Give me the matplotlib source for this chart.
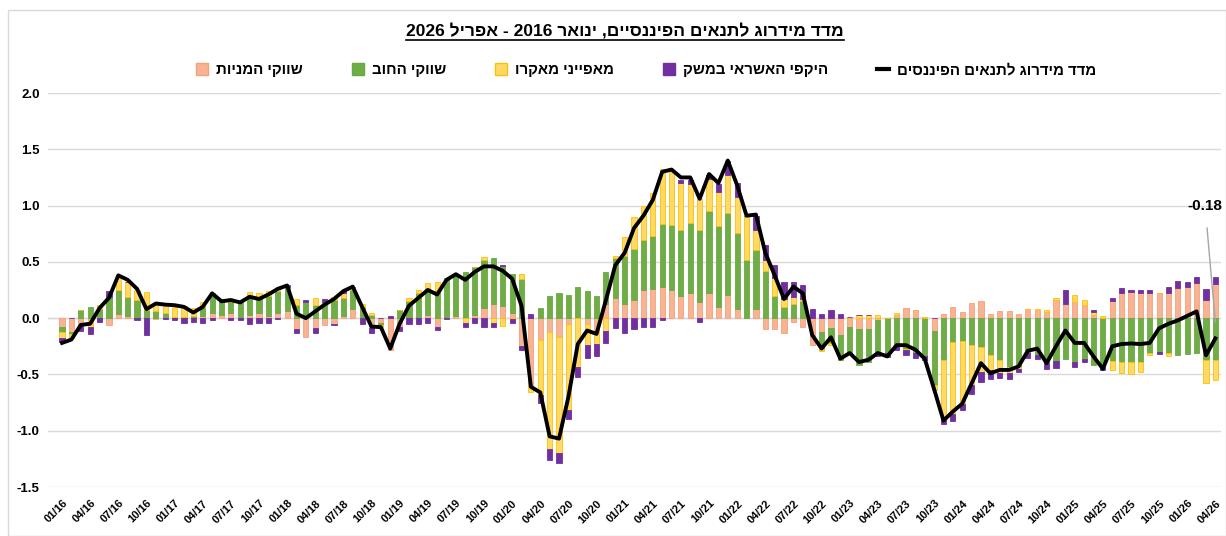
import numpy as np
import matplotlib
matplotlib.use('Agg')
import matplotlib.pyplot as plt
from matplotlib.patches import Patch, Rectangle
from matplotlib.lines import Line2D

plt.rcParams['font.family'] = ['Liberation Sans', 'DejaVu Sans']

# monthly, 01/16 .. 04/26
months = [f'{m:02d}/{y % 100:02d}' for y in range(2016, 2027) for m in range(1, 13)][:124]

equity = [-0.08, -0.12, -0.07, -0.02, 0.0, -0.06, 0.04, 0.02, 0.0, 0.0, -0.01, 0.0,
          0.0, 0.0, 0.0, 0.02, 0.045, 0.03, 0.045, 0.0, 0.03, 0.05, 0.02, 0.045,
          0.06, -0.1, -0.17, -0.09, -0.06, -0.05, 0.02, 0.08, 0.01, -0.09, -0.045, -0.28,
          -0.08, 0.0, 0.0, 0.03, -0.075, 0.01, 0.02, 0.0, 0.03, 0.09, 0.13, 0.11,
          0.05, -0.25, -0.61, -0.195, -0.12, -0.165, -0.053, 0.0, -0.05, -0.105, 0.13, 0.18,
          0.125, 0.16, 0.25, 0.26, 0.28, 0.25, 0.2, 0.225, 0.145, 0.22, 0.095, 0.21,
          0.077, 0.0, 0.077, -0.1, -0.1, -0.13, -0.03, -0.08, -0.24, -0.12, -0.09, -0.15,
          -0.077, -0.1, -0.1, -0.02, 0.0, 0.03, 0.09, 0.07, 0.0, -0.11, 0.035, 0.095,
          0.055, 0.135, 0.15, 0.04, 0.065, 0.065, 0.04, 0.085, 0.07, 0.055, 0.16, 0.13,
          0.145, 0.115, 0.025, 0.0, 0.15, 0.22, 0.23, 0.22, 0.22, 0.22, 0.22, 0.27,
          0.28, 0.31, 0.165, 0.30]
debt = [-0.04, -0.02, 0.075, 0.1, 0.08, 0.19, 0.21, 0.17, 0.16, 0.07, 0.06, 0.05,
        0.01, 0.01, 0.02, 0.08, 0.15, 0.12, 0.10, 0.15, 0.16, 0.13, 0.18, 0.2,
        0.22, 0.12, 0.14, 0.12, 0.14, 0.16, 0.16, 0.17, 0.09, 0.03, -0.015, 0.0,
        0.07, 0.15, 0.22, 0.24, 0.24, 0.35, 0.37, 0.41, 0.42, 0.43, 0.40, 0.35,
        0.34, 0.35, 0.0, 0.086, 0.2, 0.22, 0.21, 0.28, 0.24, 0.195, 0.28, 0.35,
        0.43, 0.45, 0.44, 0.47, 0.556, 0.58, 0.58, 0.62, 0.64, 0.73, 0.72, 0.72,
        0.68, 0.52, 0.53, 0.42, 0.2, 0.1, 0.13, 0.15, 0.0, -0.15, -0.13, -0.22,
        -0.24, -0.32, -0.29, -0.30, -0.31, -0.25, -0.27, -0.31, -0.34, -0.48, -0.37, -0.21,
        -0.2, -0.24, -0.26, -0.33, -0.37, -0.43, -0.43, -0.31, -0.33, -0.40, -0.38, -0.36,
        -0.39, -0.36, -0.42, -0.43, -0.38, -0.39, -0.39, -0.39, -0.31, -0.30, -0.31, -0.33,
        -0.32, -0.31, -0.37, -0.37]
macro = [-0.06, -0.04, 0.0, -0.055, 0.04, 0.0, 0.13, 0.13, 0.09, 0.16, 0.07, 0.07,
         0.09, 0.1, 0.07, 0.04, 0.03, 0.0, 0.03, 0.0, 0.045, 0.04, 0.04, 0.02,
         0.0, 0.05, 0.0, 0.06, 0.0, 0.03, 0.04, 0.03, 0.03, 0.015, -0.02, 0.0,
         0.0, 0.03, 0.03, 0.045, 0.08, 0.0, 0.0, -0.045, 0.0, 0.02, -0.04, -0.07,
         -0.01, 0.04, -0.045, -0.49, -1.04, -1.03, -0.76, -0.43, -0.19, -0.125, -0.11, 0.02,
         0.17, 0.29, 0.31, 0.385, 0.485, 0.49, 0.42, 0.35, 0.27, 0.29, 0.305, 0.34,
         0.32, 0.39, 0.18, 0.1, 0.16, 0.07, 0.06, 0.02, 0.0, -0.02, -0.02, 0.0,
         0.01, 0.03, 0.03, 0.03, 0.0, 0.02, -0.015, 0.0, 0.01, -0.05, -0.51, -0.64,
         -0.56, -0.355, -0.215, -0.13, -0.12, -0.06, -0.025, 0.0, 0.015, 0.02, 0.015, 0.0,
         0.06, 0.05, 0.03, 0.02, -0.08, -0.1, -0.11, -0.09, -0.015, 0.0, -0.03, 0.0,
         0.0, 0.0, -0.21, -0.18]
credit = [-0.03, 0.0, -0.045, -0.065, -0.03, 0.05, 0.0, 0.0, -0.015, -0.15, 0.0, -0.01,
          -0.02, -0.04, -0.03, -0.04, -0.02, 0.0, -0.02, -0.02, -0.05, -0.045, -0.04, -0.01,
          0.01, -0.03, 0.02, -0.04, 0.03, -0.015, 0.02, 0.0, -0.05, -0.04, 0.0, 0.015,
          -0.03, -0.05, -0.05, -0.045, -0.03, -0.01, 0.0, -0.03, -0.04, -0.075, -0.035, 0.015,
          -0.03, -0.035, 0.04, -0.07, -0.1, -0.095, -0.08, -0.095, -0.11, -0.105, -0.11, -0.09,
          -0.13, -0.1, -0.077, -0.083, -0.015, 0.0, 0.03, 0.035, -0.03, 0.03, 0.075, 0.13,
          0.12, 0.0, 0.12, 0.13, 0.11, 0.15, 0.13, 0.12, 0.08, 0.04, 0.07, 0.04,
          0.0, 0.0, 0.0, -0.02, -0.035, -0.03, -0.045, -0.045, -0.03, 0.0, -0.06, -0.06,
          -0.06, -0.08, -0.09, -0.08, -0.045, -0.05, -0.025, -0.045, -0.03, -0.05, -0.06, 0.12,
          -0.04, -0.03, 0.02, -0.03, 0.03, 0.045, 0.02, 0.03, 0.03, -0.02, 0.055, 0.06,
          0.04, 0.055, 0.09, 0.065]
index = [-0.22, -0.19, -0.06, -0.05, 0.09, 0.18, 0.38, 0.34, 0.26, 0.08, 0.13, 0.12,
         0.115, 0.10, 0.05, 0.10, 0.22, 0.15, 0.16, 0.14, 0.19, 0.17, 0.21, 0.26,
         0.29, 0.04, 0.0, 0.06, 0.12, 0.17, 0.24, 0.28, 0.10, -0.075, -0.08, -0.27,
         -0.05, 0.11, 0.18, 0.25, 0.21, 0.34, 0.39, 0.34, 0.41, 0.46, 0.46, 0.42,
         0.35, 0.11, -0.61, -0.66, -1.05, -1.07, -0.70, -0.23, -0.11, -0.14, 0.16, 0.47,
         0.58, 0.80, 0.91, 1.05, 1.30, 1.32, 1.25, 1.25, 1.06, 1.28, 1.20, 1.40,
         1.18, 0.91, 0.92, 0.58, 0.38, 0.17, 0.28, 0.22, -0.15, -0.27, -0.17, -0.36,
         -0.31, -0.39, -0.37, -0.31, -0.34, -0.24, -0.24, -0.28, -0.36, -0.63, -0.91, -0.83,
         -0.76, -0.58, -0.40, -0.49, -0.46, -0.46, -0.43, -0.29, -0.27, -0.40, -0.25, -0.11,
         -0.22, -0.22, -0.34, -0.45, -0.25, -0.23, -0.225, -0.23, -0.22, -0.09, -0.05, -0.02,
         0.02, 0.06, -0.33, -0.18]

title = 'מדד מידרוג לתנאים הפיננסיים, ינואר 2016 - אפריל 2026'
labels = ['שווקי המניות', 'שווקי החוב', 'מאפייני מאקרו', 'היקפי האשראי במשק']
line_label = 'מדד מידרוג לתנאים הפיננסים'
fills = ['#F8B393', '#70AD47', '#FFD966', '#7030A0']
edges = ['#F4A07A', '#6AA843', '#FFC000', '#7030A0']


def rtl(s):
    # matplotlib has no bidi: put hebrew words in visual order
    words = []
    for w in reversed(s.split(' ')):
        if any('\u0590' <= c <= '\u05ff' for c in w):
            w = w[::-1]
        words.append(w)
    return ' '.join(words)


fig = plt.figure(figsize=(12.26, 5.36), dpi=100)
ax = fig.add_axes([48 / 1226, 49 / 536, 1173 / 1226, 394 / 536])

x = np.arange(len(months))
pos = np.zeros(len(x))
neg = np.zeros(len(x))
for vals, fc, ec in zip([equity, debt, macro, credit], fills, edges):
    v = np.array(vals)
    bottom = np.where(v >= 0, pos, neg)
    ax.bar(x, v, bottom=bottom, width=0.55, color=fc, edgecolor=ec, linewidth=0.6, zorder=3)
    pos += np.clip(v, 0, None)
    neg += np.clip(v, None, 0)

ax.plot(x, index, color='black', lw=2.8, zorder=5)

ax.set_xlim(-1.5, 123.6)
ax.set_ylim(-1.5, 2.0)
ax.set_yticks(np.arange(-1.5, 2.01, 0.5))
ax.yaxis.set_major_formatter(matplotlib.ticker.FormatStrFormatter('%.1f'))
ax.grid(axis='y', color='#d9d9d9', lw=1, zorder=0)
ax.axhline(0, color='#d0d0d0', lw=1, zorder=1)
ax.set_xticks(x[::3])
ax.set_xticklabels(months[::3], rotation=45, ha='right', rotation_mode='anchor',
                   fontsize=8, fontweight='bold')
for lab in ax.get_yticklabels():
    lab.set_fontweight('bold')
    lab.set_fontsize(9.5)
ax.tick_params(length=0)
ax.tick_params(axis='x', pad=8)
ax.tick_params(axis='y', pad=6)
for s in ax.spines.values():
    s.set_visible(False)

# last value label
ax.annotate(f'{index[-1]:.2f}', xy=(123, -0.04), xytext=(121.9, 1.0),
            ha='center', va='center', fontsize=11, fontweight='bold',
            arrowprops=dict(arrowstyle='-', color='#a6a6a6', lw=1, shrinkA=9, shrinkB=0))

handles = [Patch(facecolor=fc, edgecolor=ec, label=rtl(l)) for fc, ec, l in zip(fills, edges, labels)]
handles.append(Line2D([], [], color='black', lw=3, label=rtl(line_label)))
fig.legend(handles=handles, loc='center', bbox_to_anchor=(0.527, 0.869), ncol=5,
           frameon=False, prop={'weight': 'bold', 'size': 10.8}, handlelength=0.8,
           handleheight=0.8, handletextpad=0.5, columnspacing=3.3)

t = fig.text(0.51, 0.944, rtl(title), ha='center', va='center', fontsize=12.5, fontweight='bold')
fig.canvas.draw()
bb = t.get_window_extent(fig.canvas.get_renderer())
fig.add_artist(Line2D([bb.x0 / 1226, bb.x1 / 1226], [(bb.y0 - 1.5) / 536] * 2,
                      color='black', lw=1.2, transform=fig.transFigure))

fig.add_artist(Rectangle((8 / 1226, 0), 1 - 8 / 1226, 526 / 536, fill=False,
                         edgecolor='#d9d9d9', lw=1, transform=fig.transFigure))

fig.savefig('out.png', dpi=100)
